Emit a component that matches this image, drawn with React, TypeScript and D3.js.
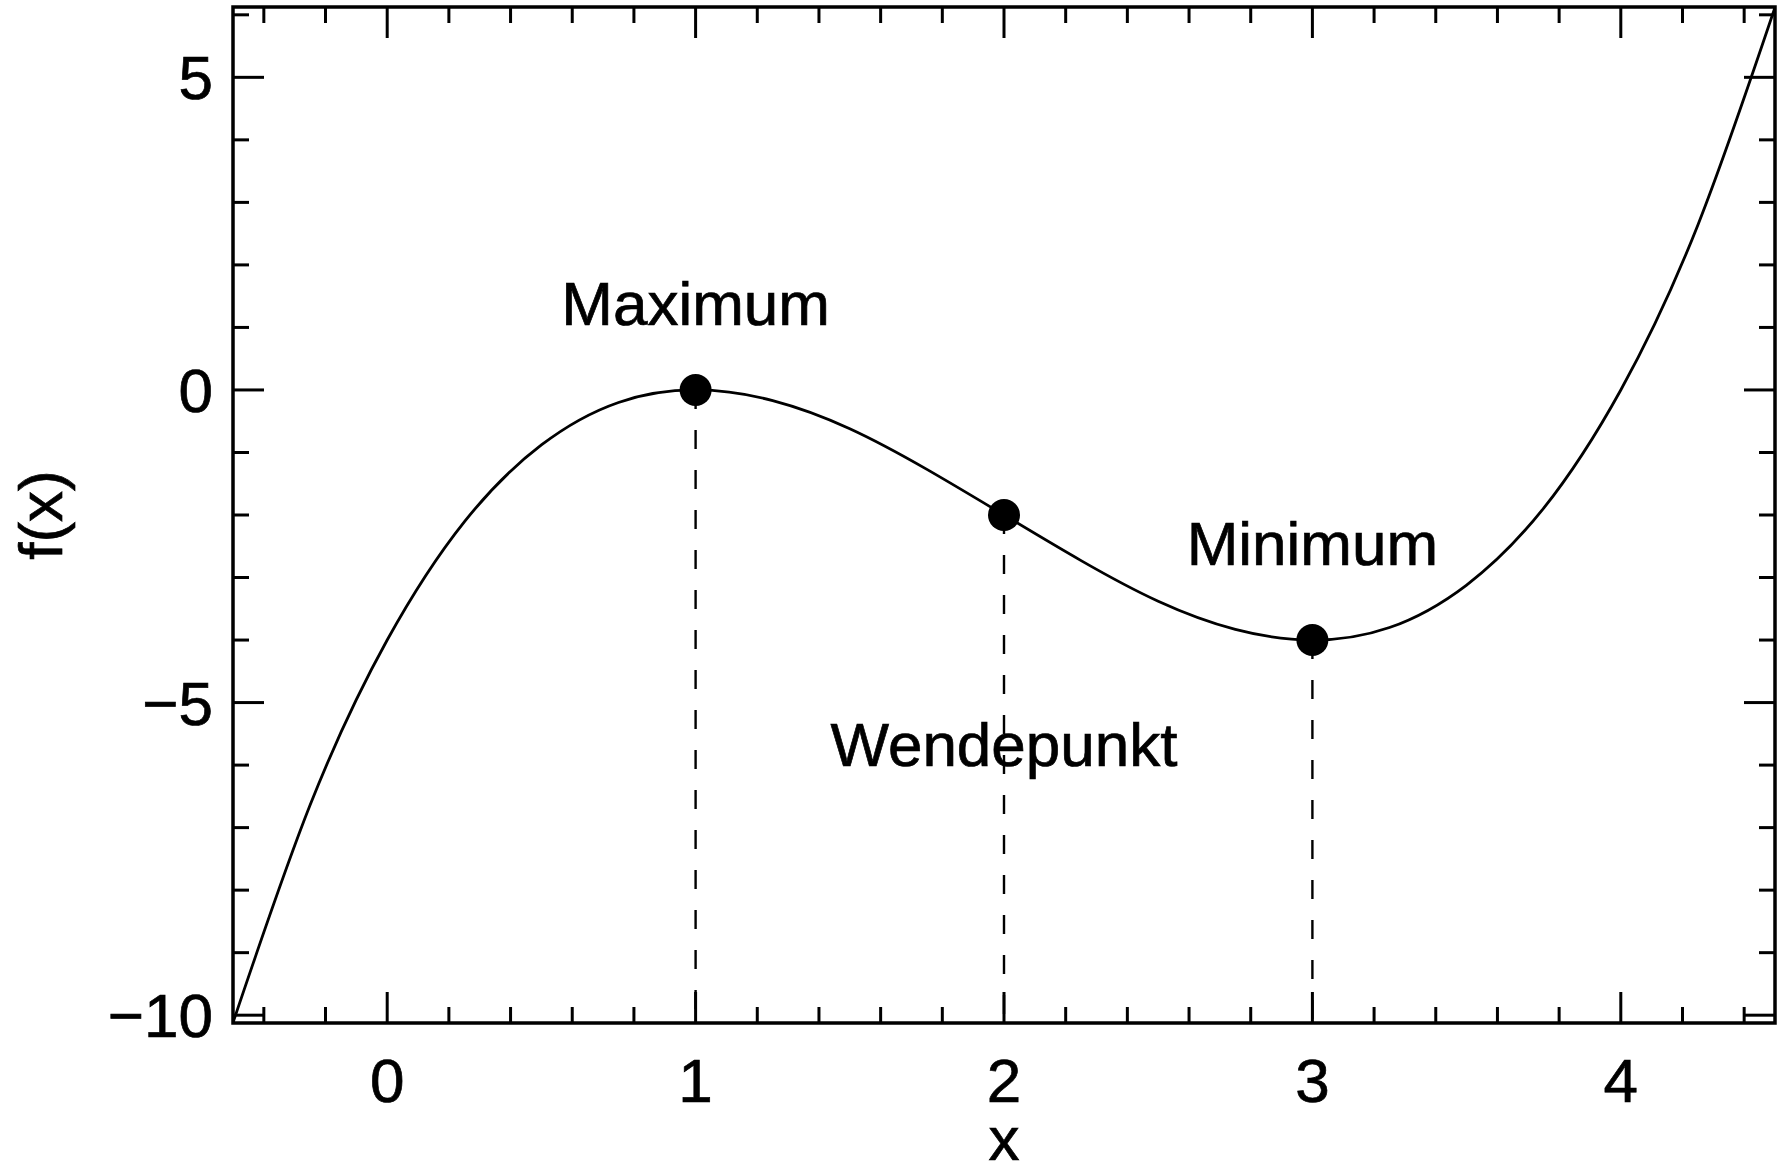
import React from "react";
import * as d3 from "d3";

// curve samples
const curveX = [-0.5, -0.25, 0, 0.25, 0.5, 0.75, 1, 1.25, 1.5, 1.75, 2, 2.25, 2.5, 2.75, 3, 3.25, 3.5, 3.75, 4, 4.25, 4.5];
const curveY = [-10.12, -6.64, -4, -2.11, -0.88, -0.2, 0, -0.17, -0.62, -1.27, -2, -2.73, -3.38, -3.83, -4, -3.8, -3.12, -1.89, 0, 2.64, 6.12];

// marked points
const pointNames = ["Maximum", "Wendepunkt", "Minimum"];
const pointX = [1, 2, 3];
const pointY = [0, -2, -4];

const xMajor = [0, 1, 2, 3, 4];
const xMinor = [-0.4, -0.2, 0.2, 0.4, 0.6, 0.8, 1.2, 1.4, 1.6, 1.8, 2.2, 2.4, 2.6, 2.8, 3.2, 3.4, 3.6, 3.8, 4.2, 4.4];
const yMajor = [-10, -5, 0, 5];
const yMinor = [-9, -8, -7, -6, -4, -3, -2, -1, 1, 2, 3, 4, 6];

const W = 1781, H = 1173;
const m = { left: 233, right: 6, top: 7, bottom: 150 };
const FONT = "'Liberation Sans', Arial, Helvetica, sans-serif";
const FS = 62;

export default function App() {
  const x = d3.scaleLinear().domain([-0.5, 4.5]).range([m.left, W - m.right]);
  const y = d3.scaleLinear().domain([-10.125, 6.125]).range([H - m.bottom, m.top]);
  const [x0, x1] = x.range();
  const [y0, y1] = y.range(); // y0 bottom, y1 top

  const line = d3.line<number>()
    .x((d, i) => x(curveX[i]))
    .y((d) => y(d))
    .curve(d3.curveNatural);

  const major = 31, minor = 16;
  const tw = 3;
  // label baselines: Maximum and Minimum above their point, Wendepunkt lower down
  const labelY = [325, 766, 565];

  return (
    <svg width={W} height={H} style={{ position: "absolute", left: 0, top: 0, background: "#fff" }}
      fontFamily={FONT} fontSize={FS} stroke="none">
      <rect width={W} height={H} fill="#fff" />
      <defs>
        <clipPath id="plot">
          <rect x={x0} y={y1} width={x1 - x0} height={y0 - y1} />
        </clipPath>
      </defs>

      {/* dashed drop lines */}
      {pointX.map((px, i) => (
        <line key={"d" + i} x1={x(px)} x2={x(px)} y1={y(pointY[i])} y2={y0}
          stroke="#000" strokeWidth={2.4} strokeDasharray="19 21" />
      ))}

      <path d={line(curveY) || ""} fill="none" stroke="#000" strokeWidth={2.8} clipPath="url(#plot)" />

      {pointX.map((px, i) => (
        <circle key={"c" + i} cx={x(px)} cy={y(pointY[i])} r={16} fill="#000" />
      ))}

      <g fill="#000" stroke="#000" strokeWidth={0.7}>
        {pointNames.map((n, i) => (
          <text key={"t" + i} x={x(pointX[i])} y={labelY[i]} textAnchor="middle">{n}</text>
        ))}
        {xMajor.map((v) => (
          <text key={"xl" + v} x={x(v)} y={1102} textAnchor="middle">{v}</text>
        ))}
        {yMajor.map((v) => (
          <text key={"yl" + v} x={213} y={y(v) + 22} textAnchor="end">{v < 0 ? "\u2212" + Math.abs(v) : v}</text>
        ))}
        <text x={(x0 + x1) / 2} y={1160} textAnchor="middle">x</text>
        <text transform={`translate(62, ${(y0 + y1) / 2}) rotate(-90)`} textAnchor="middle">f(x)</text>
      </g>

      {/* ticks on all four sides, pointing inward */}
      <g stroke="#000" strokeWidth={tw}>
        {xMajor.map((v) => (
          <g key={"xM" + v}>
            <line x1={x(v)} x2={x(v)} y1={y0} y2={y0 - major} />
            <line x1={x(v)} x2={x(v)} y1={y1} y2={y1 + major} />
          </g>
        ))}
        {xMinor.map((v) => (
          <g key={"xm" + v}>
            <line x1={x(v)} x2={x(v)} y1={y0} y2={y0 - minor} />
            <line x1={x(v)} x2={x(v)} y1={y1} y2={y1 + minor} />
          </g>
        ))}
        {yMajor.map((v) => (
          <g key={"yM" + v}>
            <line x1={x0} x2={x0 + major} y1={y(v)} y2={y(v)} />
            <line x1={x1} x2={x1 - major} y1={y(v)} y2={y(v)} />
          </g>
        ))}
        {yMinor.map((v) => (
          <g key={"ym" + v}>
            <line x1={x0} x2={x0 + minor} y1={y(v)} y2={y(v)} />
            <line x1={x1} x2={x1 - minor} y1={y(v)} y2={y(v)} />
          </g>
        ))}
      </g>

      <rect x={x0} y={y1} width={x1 - x0} height={y0 - y1} fill="none" stroke="#000" strokeWidth={3.5} />
    </svg>
  );
}
